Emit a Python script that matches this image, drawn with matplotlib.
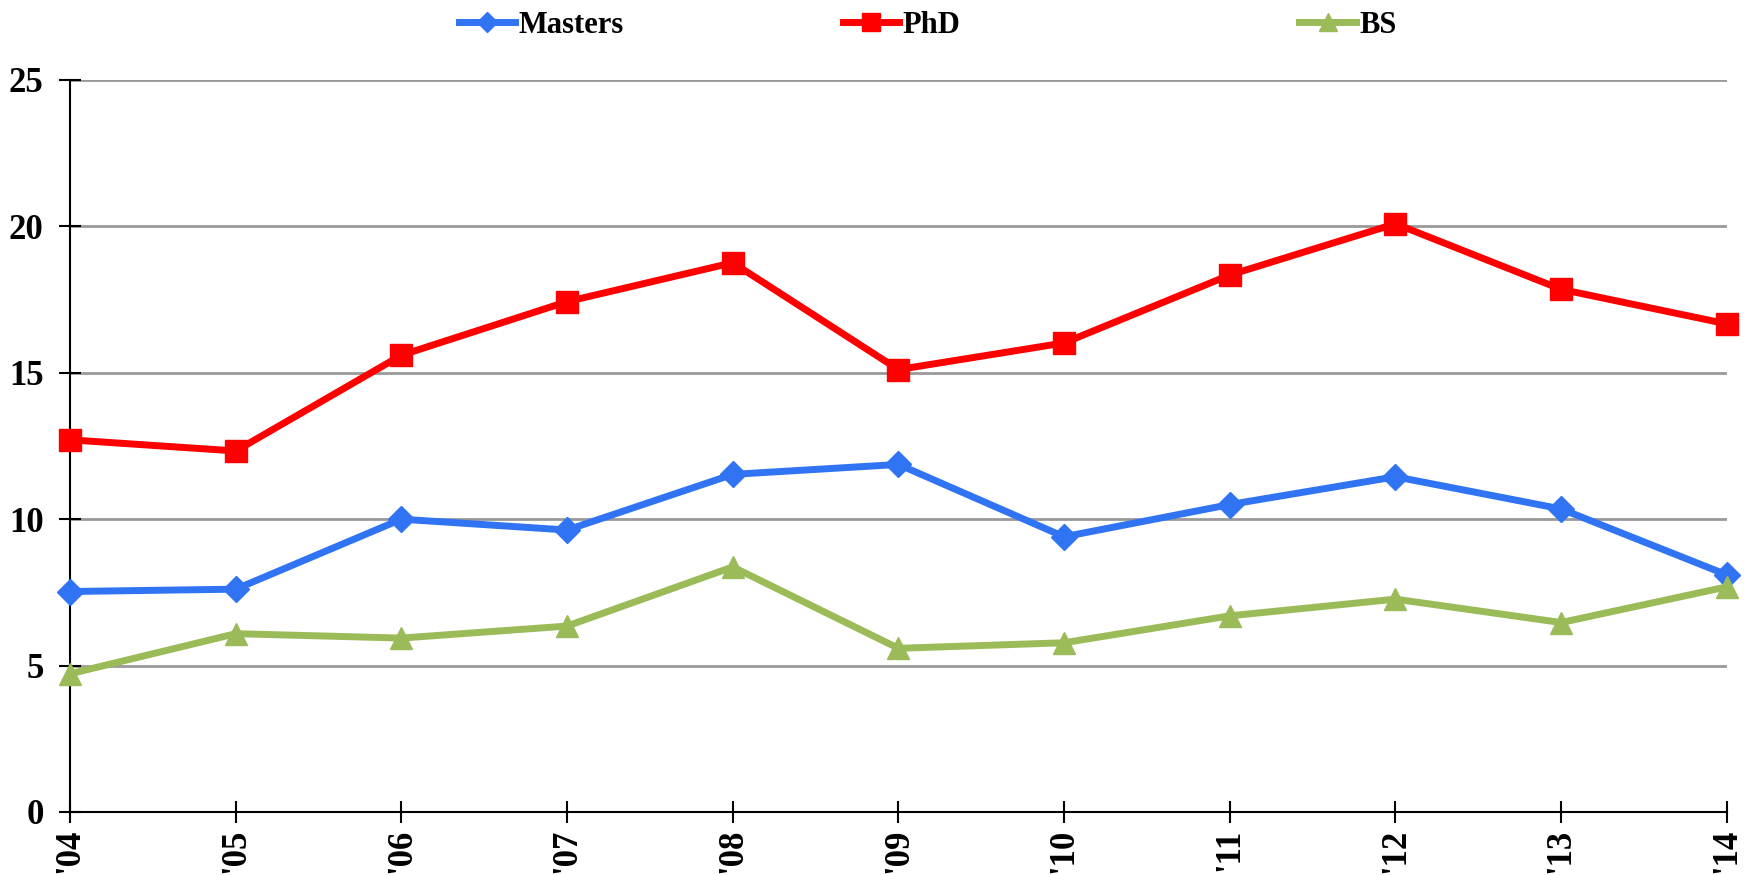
import matplotlib.pyplot as plt

# Datos del grafico
years = ["'04", "'05", "'06", "'07", "'08", "'09", "'10", "'11", "'12", "'13", "'14"]
masters = [7.53, 7.61, 10.0, 9.63, 11.53, 11.87, 9.40, 10.50, 11.45, 10.35, 8.1]
phd = [12.71, 12.33, 15.60, 17.43, 18.76, 15.11, 16.02, 18.34, 20.09, 17.85, 16.67]
bs = [4.72, 6.09, 5.94, 6.35, 8.37, 5.59, 5.78, 6.70, 7.27, 6.47, 7.69]

plt.rcParams['font.family'] = ['Liberation Serif', 'DejaVu Serif']
plt.rcParams['font.weight'] = 'bold'

fig = plt.figure(figsize=(17.46, 8.75), dpi=100)
ax = fig.add_axes([0.0401, 0.072, 0.9489, 0.8366])

x = range(len(years))
l1, = ax.plot(x, masters, color="#3074F4", lw=5, marker="D", ms=13, label="Masters", clip_on=False, zorder=3)
l2, = ax.plot(x, phd, color="#FF0000", lw=5, marker="s", ms=16, label="PhD", clip_on=False, zorder=3)
l3, = ax.plot(x, bs, color="#9BBB59", lw=5, marker="^", ms=16, label="BS", clip_on=False, zorder=3)

# Ejes
ax.set_xlim(0, len(years) - 1)
ax.set_ylim(0, 25)
ax.set_yticks([0, 5, 10, 15, 20, 25])
ax.set_xticks(list(x))
ax.set_xticklabels(years, rotation=90, fontsize=25, fontweight="bold")
ax.tick_params(axis="y", labelsize=25, direction="inout", length=16, width=1.5, pad=11)
ax.tick_params(axis="x", direction="inout", length=16, width=1.5, pad=4)
for lbl in ax.get_yticklabels():
    lbl.set_fontweight("bold")

ax.yaxis.grid(True, color="#999999", lw=2)
ax.set_axisbelow(True)
ax.spines["top"].set_visible(False)
ax.spines["right"].set_visible(False)
ax.spines["left"].set_linewidth(1.5)
ax.spines["bottom"].set_linewidth(1.5)

# Leyendas separadas, una por serie
for line, xpos in [(l1, 0.254), (l2, 0.474), (l3, 0.7355)]:
    fig.legend(handles=[line], loc="center left", bbox_to_anchor=(xpos, 0.971), frameon=False,
               borderpad=0, handlelength=1.85, handletextpad=0.1, markerscale=0.8,
               prop={"weight": "bold", "size": 22})

plt.savefig("out.png", dpi=100)
